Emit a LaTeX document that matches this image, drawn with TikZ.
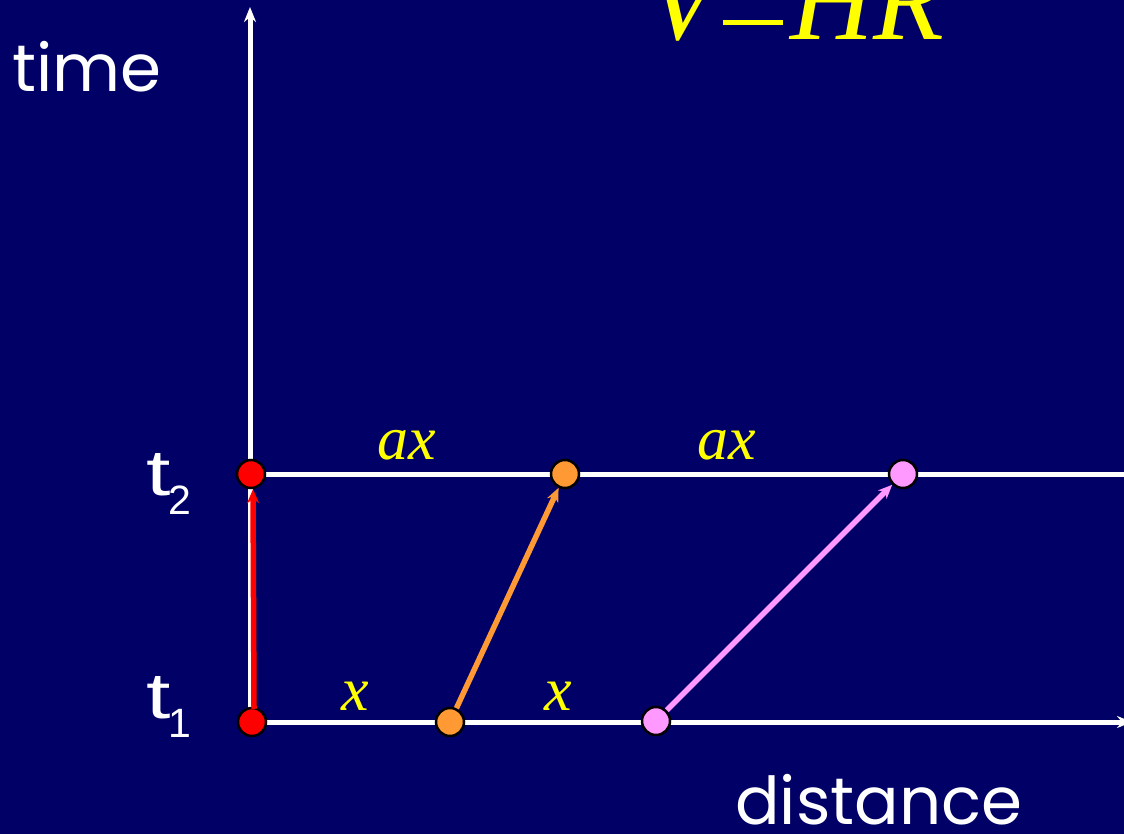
\documentclass[tikz,border=0pt]{standalone}
\usepackage{fontspec}
\setmainfont{Liberation Serif}
\newfontfamily\arialf{Liberation Sans}
\newfontfamily\comicf{Poppins}
\usetikzlibrary{arrows.meta}
\definecolor{bgnavy}{RGB}{0,0,102}
\definecolor{ptyellow}{RGB}{255,255,0}
\definecolor{ptorange}{RGB}{255,153,51}
\definecolor{ptpink}{RGB}{255,153,255}
\definecolor{ptred}{RGB}{255,0,0}
\tikzset{
  axisline/.style={draw=white,line width=5pt},
  dot/.style={circle,draw=black,line width=2.5pt,minimum size=28pt,inner sep=0pt},
  motion/.style={line width=5.5pt,-{Stealth[length=14pt,width=12pt]}},
  lab/.style={text=ptyellow,font=\fontsize{62}{64}\selectfont\itshape},
  axlab/.style={text=white,font=\comicf\fontsize{66}{68}\selectfont},
  tlab/.style={text=white,font=\arialf\fontsize{65}{66}\selectfont}
}
\newcommand{\tsub}[1]{\scalebox{1.35}[1]{t}\kern-2pt\raisebox{-19pt}{\fontsize{41}{42}\selectfont #1}}
\begin{document}
\begin{tikzpicture}[x=1pt,y=-1pt]
\fill[bgnavy] (0,0) rectangle (1124,834);
\useasboundingbox (0,0) rectangle (1124,834);
\begin{scope}
\clip (0,0) rectangle (1124,834);
% title
\node[anchor=base west,inner sep=0pt,text=ptyellow,font=\fontsize{116}{116}\selectfont] (title) at (646,40) {\itshape V\kern6pt\raisebox{15pt}{\rule{60pt}{5pt}}\kern7pt\itshape HR};
% axes
\coordinate (o) at (250,722);
\coordinate (ytop) at (250,7);
\coordinate (xend) at (1132,722);
\coordinate (t2l) at (250,474);
\coordinate (t2r) at (1130,474);
\draw[axisline,-{Stealth[length=15pt,width=12pt]}] (o) -- (ytop);
\draw[axisline,-{Stealth[length=15pt,width=12pt]}] (o) -- (xend);
\draw[axisline] (t2l) -- (t2r);
% dots
\node[dot,fill=ptred] (r1) at (252,722) {};
\node[dot,fill=ptred] (r2) at (251,474) {};
\node[dot,fill=ptorange] (o1) at (450,722) {};
\node[dot,fill=ptorange] (o2) at (565,474) {};
\node[dot,fill=ptpink] (p1) at (656,721) {};
\node[dot,fill=ptpink] (p2) at (903,474) {};
% motions
\draw[motion,ptred,shorten <=-2pt] ([xshift=2pt]r1.north) -- ([xshift=2pt]r2.south);
\draw[motion,ptorange] (o1) -- (o2);
\draw[motion,ptpink] (p1) -- (p2);
% labels
\node[lab,anchor=base] (ax1) at (407,459) {ax};
\node[lab,anchor=base] (ax2) at (727,459) {ax};
\node[lab,anchor=base] (x1) at (355,710) {x};
\node[lab,anchor=base] (x2) at (558,710) {x};
\node[axlab,anchor=base west,inner sep=0pt] (time) at (12,92) {time};
\node[axlab,anchor=base west,inner sep=0pt] (dist) at (735,824) {distance};
\node[tlab,anchor=base west,inner sep=0pt] (t2) at (146,495) {\tsub{2}};
\node[tlab,anchor=base west,inner sep=0pt] (t1) at (146,718) {\tsub{1}};
\end{scope}
\end{tikzpicture}
\end{document}
